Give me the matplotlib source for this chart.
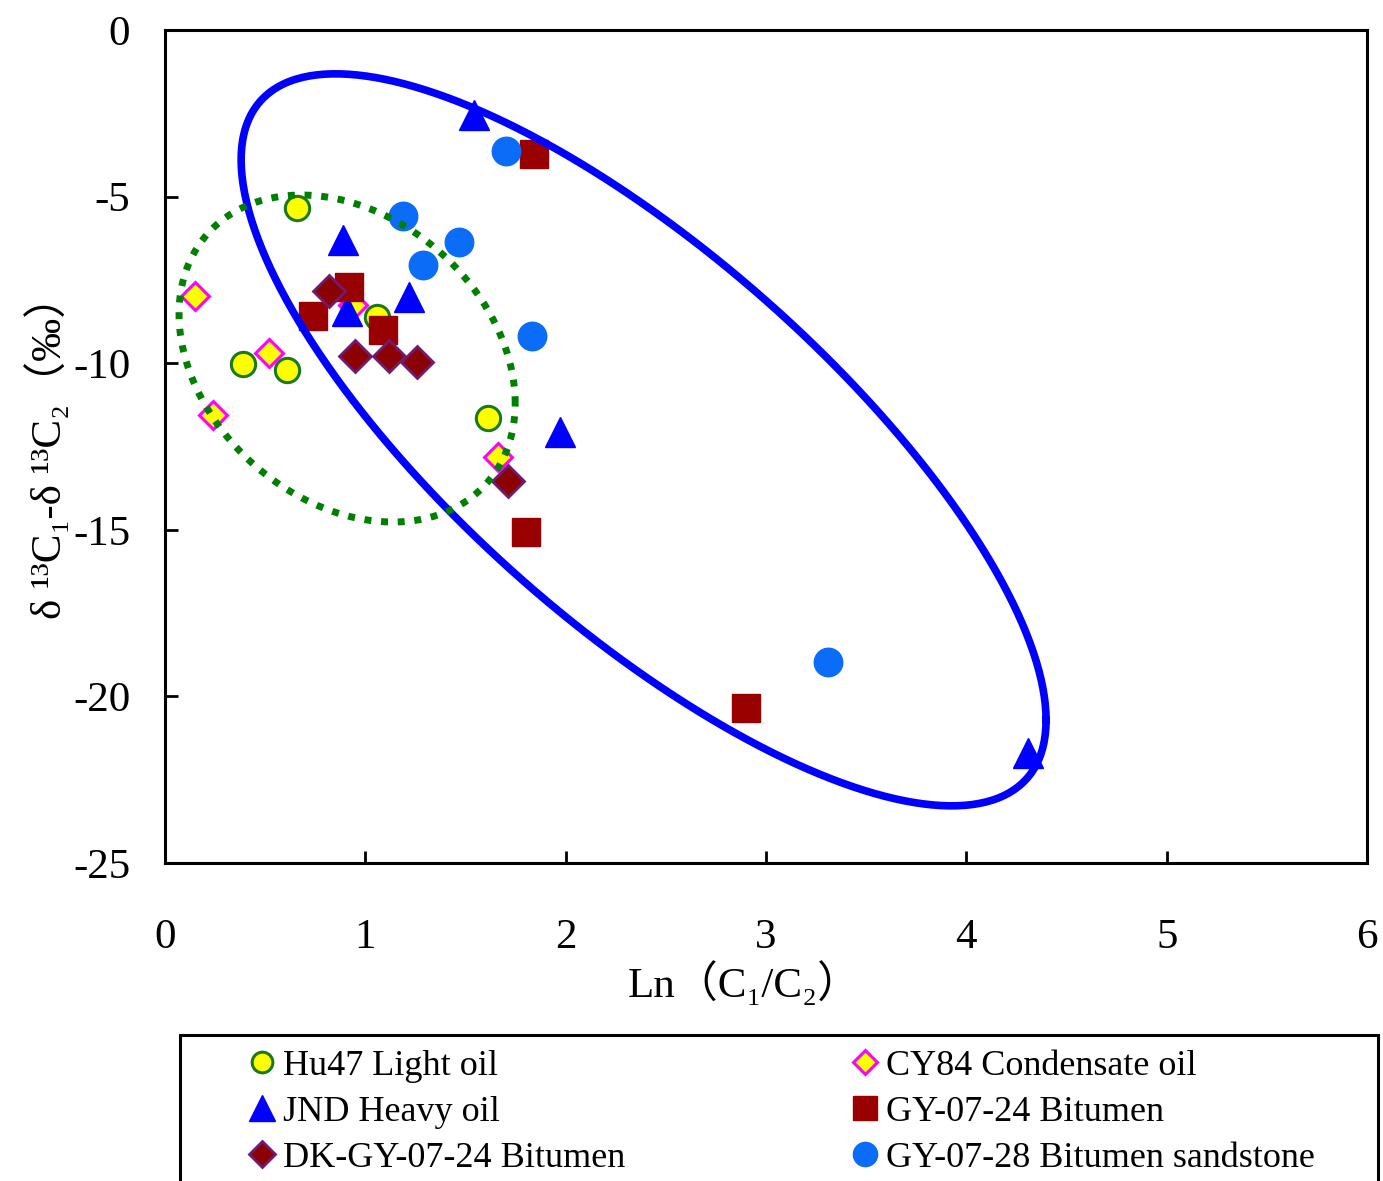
import numpy as np
import matplotlib
matplotlib.use("Agg")
import matplotlib.pyplot as plt
from matplotlib.patches import Rectangle

plt.rcParams["font.family"] = ["Liberation Serif", "DejaVu Serif", "Noto Sans CJK SC"]
plt.rcParams["axes.unicode_minus"] = False

# ---------------- data ----------------
hu47_x = [0.66, 0.39, 0.61, 1.06, 1.61]
hu47_y = [-5.34, -10.02, -10.20, -8.60, -11.64]

cy84_x = [0.15, 0.52, 0.24, 0.94, 1.66]
cy84_y = [-7.98, -9.69, -11.55, -8.25, -12.82]

jnd_x = [1.54, 0.89, 1.22, 0.91, 1.97, 4.31]
jnd_y = [-2.55, -6.30, -8.00, -8.43, -12.07, -21.71]

gy24_x = [1.84, 0.92, 0.74, 1.09, 1.80, 2.90]
gy24_y = [-3.72, -7.72, -8.58, -9.00, -15.07, -20.34]

dk_x = [0.82, 0.95, 1.12, 1.26, 1.71]
dk_y = [-7.83, -9.78, -9.78, -9.97, -13.53]

gy28_x = [1.70, 1.19, 1.47, 1.29, 1.83, 3.31]
gy28_y = [-3.63, -5.58, -6.36, -7.05, -9.18, -18.98]

# ellipse outlines (centre, axis vectors in data units)
blue_ell = dict(cx=2.389, cy=-12.30, ax=2.009, ay=-8.407, by=7.07)
green_ell = dict(cx=0.909, cy=-9.86, ax=0.839, ay=-1.340, by=4.72)

x_ticks = [0, 1, 2, 3, 4, 5, 6]
y_ticks = [0, -5, -10, -15, -20, -25]


def ellipse_xy(e, n=400):
    t = np.linspace(0, 2 * np.pi, n)
    return e["cx"] + e["ax"] * np.cos(t), e["cy"] + e["ay"] * np.cos(t) + e["by"] * np.sin(t)


fig = plt.figure(figsize=(13.83, 11.81), dpi=100)
ax = fig.add_axes([165 / 1383, 1 - 863 / 1181, (1367 - 165) / 1383, (863 - 30) / 1181])

h1, = ax.plot(hu47_x, hu47_y, "o", ms=17.5, mfc="#FFFF00", mec="#1A7A1A", mew=2.2,
              label="Hu47 Light oil", zorder=3)
h4, = ax.plot(cy84_x, cy84_y, "D", ms=14.5, mfc="#FFFF00", mec="#FF00FF", mew=2.2,
              label="CY84 Condensate oil", zorder=3)
h2, = ax.plot(jnd_x, jnd_y, "^", ms=22, color="#0000FF", mec="#0000FF",
              label="JND Heavy oil", zorder=3)
h5, = ax.plot(gy24_x, gy24_y, "s", ms=20, color="#990000", mec="#990000",
              label="GY-07-24 Bitumen", zorder=3)
h3, = ax.plot(dk_x, dk_y, "D", ms=16, mfc="#8B0000", mec="#701A70", mew=2,
              label="DK-GY-07-24 Bitumen", zorder=3)
h6, = ax.plot(gy28_x, gy28_y, "o", ms=20.5, color="#0A6CF7", mec="#0A6CF7",
              label="GY-07-28 Bitumen sandstone", zorder=3)

bx, by = ellipse_xy(blue_ell)
ax.plot(bx, by, color="#0000FF", lw=5.5, zorder=4)
gx, gy = ellipse_xy(green_ell)
ax.plot(gx, gy, color="#008000", lw=5, linestyle=(0, (1, 1.4)), zorder=4)

ax.set_xlim(0, 6)
ax.set_ylim(-25, 0)
ax.set_xticks(x_ticks)
ax.set_yticks(y_ticks)
ax.tick_params(direction="in", length=9, width=2, labelsize=31)
ax.tick_params(axis="x", pad=40)
ax.tick_params(axis="y", pad=25)
for s in ax.spines.values():
    s.set_linewidth(2.2)

ax.set_xlabel("Ln（C₁/C₂）", fontsize=31, labelpad=3)
ax.xaxis.label.set_x(0.482)
ax.set_ylabel("δ ¹³C₁-δ ¹³C₂（‰）", fontsize=31, labelpad=2)

fig.add_artist(Rectangle((180 / 1383, -0.05), (1378 - 180) / 1383, (1181 - 1035) / 1181 + 0.05,
                         transform=fig.transFigure, fill=False, lw=2.2, ec="black",
                         clip_on=False))

fig.legend(handles=[h1, h2, h3, h4, h5, h6], loc="upper left",
           bbox_to_anchor=(180 / 1383, 1 - 1035 / 1181), ncol=2, frameon=False,
           fontsize=26, markerscale=0.85, borderpad=0.4, borderaxespad=0,
           handlelength=3.745, handletextpad=-1.29, columnspacing=4.76,
           labelspacing=0.35)

fig.savefig("out.png", dpi=100)
